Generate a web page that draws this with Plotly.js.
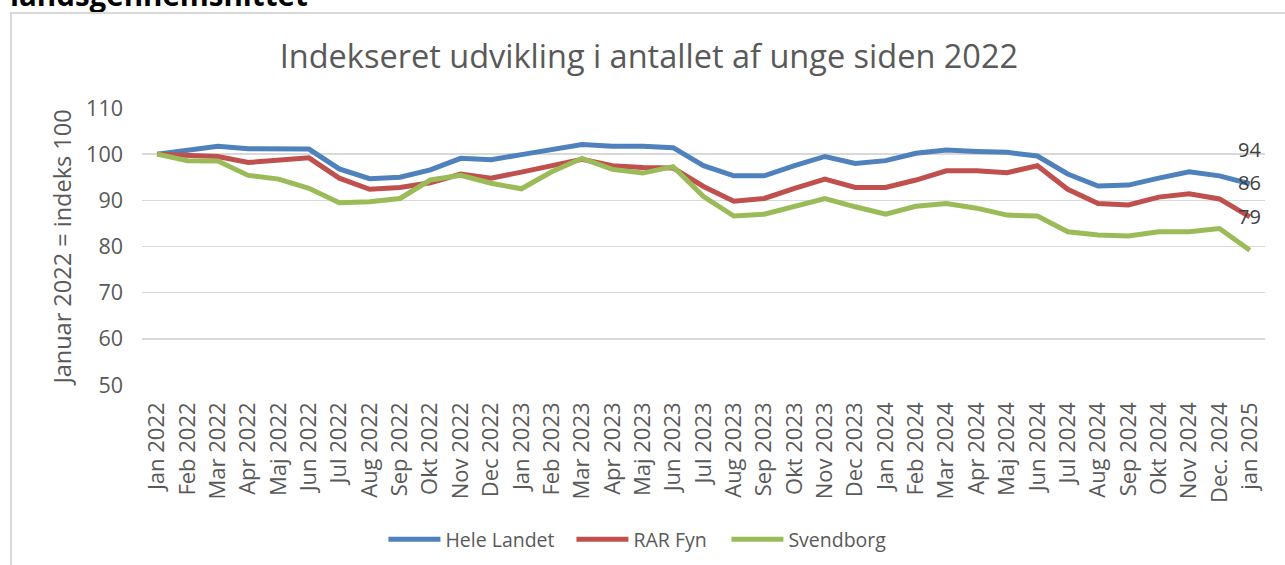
<!DOCTYPE html>
<html>
<head>
<meta charset="utf-8">
<script src="https://cdn.plot.ly/plotly-3.0.1.min.js"></script>
<style>
  html, body { margin:0; padding:0; background:#fff; width:1285px; height:565px; overflow:hidden; }
  #frame { position:absolute; left:10px; top:12px; width:1300px; height:600px; border:2px solid #d9d9d9; box-sizing:border-box; }
  #cap { position:absolute; left:10px; top:-20px; line-height:30px; font-family:"Open Sans", sans-serif; font-weight:700; font-size:29.5px; color:#000; white-space:nowrap; }
  #chart { position:absolute; left:0; top:0; width:1285px; height:565px; }
</style>
</head>
<body>
<div id="cap">landsgennemsnittet</div>
<div id="frame"></div>
<div id="chart"></div>
<script>
const months = ["Jan 2022","Feb 2022","Mar 2022","Apr 2022","Maj 2022","Jun 2022","Jul 2022","Aug 2022","Sep 2022","Okt 2022","Nov 2022","Dec 2022",
  "Jan 2023","Feb 2023","Mar 2023","Apr 2023","Maj 2023","Jun 2023","Jul 2023","Aug 2023","Sep 2023","Okt 2023","Nov 2023","Dec 2023",
  "Jan 2024","Feb 2024","Mar 2024","Apr 2024","Maj 2024","Jun 2024","Jul 2024","Aug 2024","Sep 2024","Okt 2024","Nov 2024","Dec. 2024","jan 2025"];

const heleLandet = [100,100.8,101.7,101.2,101.1,101.1,96.8,94.7,95.0,96.6,99.1,98.8,
  99.9,100.9,102.1,101.7,101.7,101.4,97.5,95.3,95.3,97.5,99.5,98.0,
  98.6,100.2,100.9,100.6,100.4,99.6,95.7,93.1,93.3,94.8,96.2,95.3,93.6];

const rarFyn = [100,99.7,99.5,98.2,98.6,99.2,94.8,92.4,92.8,93.8,95.7,94.8,
  96.1,97.5,98.9,97.5,97.1,97.0,93.0,89.8,90.4,92.6,94.6,92.8,
  92.8,94.4,96.4,96.4,96.0,97.5,92.4,89.3,89.0,90.7,91.4,90.3,86.4];

const svendborg = [100,98.6,98.5,95.4,94.6,92.6,89.5,89.7,90.4,94.4,95.4,93.7,
  92.5,96.2,99.1,96.7,95.9,97.3,90.8,86.6,87.0,88.8,90.4,88.6,
  87.0,88.7,89.3,88.3,86.8,86.6,83.2,82.5,82.3,83.2,83.2,83.9,79.2];

const seriesNames = ["Hele Landet","RAR Fyn","Svendborg"];
const seriesColors = ["#4f81bd","#c0504d","#9bbb59"];
const seriesValues = [heleLandet, rarFyn, svendborg];
const yTicks = [50,60,70,80,90,100,110];

const FONT = '"Open Sans", sans-serif';
const TXT = '#595959';
const legendIds = ['legend','legend2','legend3'];
const legendX = [0.215, 0.3824, 0.5204];

const traces = seriesValues.map((vals, i) => ({
  type:'scatter', mode:'lines', name: seriesNames[i],
  x: months, y: vals, legend: legendIds[i],
  line: {color: seriesColors[i], width: 5},
  hoverinfo:'skip'
}));

const annotations = seriesValues.map((vals) => ({
  x: months[months.length-1], y: vals[vals.length-1], xref:'x', yref:'y',
  text: String(Math.round(vals[vals.length-1])), showarrow:false,
  yshift: 34, font:{family:FONT, size:20, color:'#404040'}
}));

const layout = {
  width:1285, height:565,
  paper_bgcolor:'rgba(0,0,0,0)', plot_bgcolor:'rgba(0,0,0,0)',
  margin:{l:142, r:20, t:108, b:180, autoexpand:false},
  title:{text:'Indekseret udvikling i antallet af unge siden 2022', font:{family:FONT, size:32.5, color:TXT}, x:0.505, xanchor:'center', y:0.9, yanchor:'middle', yref:'container'},
  showlegend:true,
  xaxis:{type:'category', range:[-0.5, months.length-0.5], tickangle:-90, showgrid:false, zeroline:false, showline:false, ticks:'', ticklabelstandoff:12,
    tickfont:{family:FONT, size:22, color:TXT}, fixedrange:true, automargin:false},
  yaxis:{range:[50,110], tickvals:yTicks, showgrid:true, gridcolor:'#d9d9d9', gridwidth:1.5, zeroline:false, showline:false, ticks:'',
    tickfont:{family:FONT, size:21.5, color:TXT}, ticklabelstandoff:18, automargin:false,
    title:{text:'Januar 2022 = indeks 100', font:{family:FONT, size:23.5, color:TXT}, standoff:7}, fixedrange:true},
  annotations: annotations
};
legendIds.forEach((id, i) => {
  layout[id] = {orientation:'h', x:legendX[i], xanchor:'left', y:-0.558, yanchor:'middle', font:{family:FONT, size:19.5, color:TXT}, itemwidth:52, bgcolor:'rgba(0,0,0,0)'};
});

Plotly.newPlot('chart', traces, layout, {displayModeBar:false, staticPlot:true});
</script>
</body>
</html>
